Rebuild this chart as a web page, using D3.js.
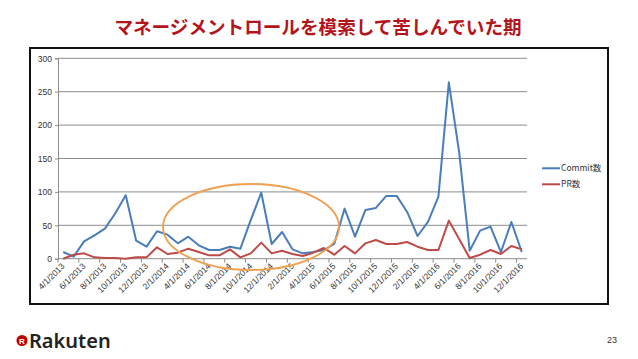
<!DOCTYPE html>
<html>
<head>
<meta charset="utf-8">
<script src="https://cdn.jsdelivr.net/npm/d3@7/dist/d3.min.js"></script>
<style>
  body { margin: 0; background: #fff; }
  svg { display: block; }
</style>
</head>
<body>
<svg width="638" height="359"></svg>
<script>
// monthly data, 4/2013 .. 12/2016
var months = [];
for (var yr = 2013; yr <= 2016; yr++) {
  for (var m = 1; m <= 12; m++) {
    if (yr == 2013 && m < 4) continue;
    months.push(m + "/1/" + yr);
  }
}
var commits = [10, 3, 26, 35, 45, 68, 95, 27, 18, 41, 36, 23, 33, 20, 13, 13, 18, 15, 58, 99,
               22, 40, 14, 8, 10, 13, 22, 75, 33, 73, 76, 94, 94, 70, 34, 55, 93, 264, 158, 12,
               42, 48, 10, 55, 10];
var prs = [0, 6, 8, 2, 1, 1, 0, 2, 2, 17, 7, 9, 15, 10, 5, 5, 14, 2, 8, 24,
           8, 12, 7, 4, 9, 16, 6, 19, 8, 23, 28, 22, 22, 25, 18, 13, 13, 57, 29, 1,
           6, 13, 7, 19, 14];
var yTicks = [0, 50, 100, 150, 200, 250, 300];
var seriesNames = ["Commit数", "PR数"];
var seriesColors = ["#4A7EBB", "#BE4B48"];

var svg = d3.select("svg");

// title
svg.append("text")
  .attr("x", 318).attr("y", 34)
  .attr("text-anchor", "middle")
  .attr("font-family", "Noto Sans CJK JP")
  .attr("font-weight", "bold")
  .attr("font-size", 18.6)
  .attr("fill", "#B4141B")
  .text("マネージメントロールを模索して苦しんでいた期");

// chart frame
svg.append("rect")
  .attr("x", 30).attr("y", 48).attr("width", 578).attr("height", 256)
  .attr("fill", "#fff").attr("stroke", "#111").attr("stroke-width", 2);

var plotL = 58, plotR = 527, plotT = 58.3, plotB = 258.7;

var x = d3.scaleBand().domain(months).range([plotL, plotR]);
var yScale = d3.scaleLinear().domain([0, 300]).range([plotB, plotT]);

// gridlines
svg.append("g").selectAll("line")
  .data(yTicks.slice(1))
  .enter().append("line")
  .attr("x1", plotL).attr("x2", plotR)
  .attr("y1", function(d) { return yScale(d); })
  .attr("y2", function(d) { return yScale(d); })
  .attr("stroke", "#8c8c8c").attr("stroke-width", 1);

// y axis
var yAxis = svg.append("g")
  .attr("transform", "translate(" + plotL + ",0)")
  .call(d3.axisLeft(yScale).tickValues(yTicks).tickSize(3).tickPadding(3));
yAxis.select(".domain").attr("stroke", "#8c8c8c");
yAxis.selectAll(".tick line").attr("stroke", "#8c8c8c");
yAxis.selectAll("text")
  .attr("font-family", "Liberation Sans").attr("font-size", 8.5).attr("fill", "#333");

// x axis: ticks at category boundaries every 2 months
var xa = svg.append("g");
xa.append("line")
  .attr("x1", plotL).attr("x2", plotR)
  .attr("y1", plotB).attr("y2", plotB)
  .attr("stroke", "#8c8c8c");
xa.selectAll(".tk")
  .data(months.filter(function(d, i) { return i % 2 == 0; }))
  .enter().append("line")
  .attr("class", "tk")
  .attr("x1", function(d) { return x(d); })
  .attr("x2", function(d) { return x(d); })
  .attr("y1", plotB).attr("y2", plotB + 4)
  .attr("stroke", "#8c8c8c");
xa.selectAll("text")
  .data(months.filter(function(d, i) { return i % 2 == 0; }))
  .enter().append("text")
  .attr("transform", function(d) {
    return "translate(" + (x(d) + x.bandwidth() / 2 + 2) + "," + (plotB + 8) + ") rotate(-45)";
  })
  .attr("text-anchor", "end")
  .attr("font-family", "Liberation Sans")
  .attr("font-size", 8.5)
  .attr("fill", "#333")
  .text(function(d) { return d; });

// lines
var line = d3.line()
  .x(function(d, i) { return x(months[i]) + x.bandwidth() / 2; })
  .y(function(d) { return yScale(d); });

[commits, prs].forEach(function(s, k) {
  svg.append("path")
    .attr("d", line(s))
    .attr("fill", "none")
    .attr("stroke", seriesColors[k])
    .attr("stroke-width", 2)
    .attr("stroke-linejoin", "round");
});

// orange ellipse
svg.append("ellipse")
  .attr("cx", 251).attr("cy", 227).attr("rx", 88).attr("ry", 43)
  .attr("fill", "none").attr("stroke", "#F0A050").attr("stroke-width", 1.8);

// legend
var lg = svg.append("g").selectAll("g")
  .data(seriesNames)
  .enter().append("g")
  .attr("transform", function(d, i) { return "translate(542," + (168.3 + i * 16) + ")"; });
lg.append("line")
  .attr("x1", 0).attr("x2", 18)
  .attr("stroke", function(d, i) { return seriesColors[i]; })
  .attr("stroke-width", 2);
lg.append("text")
  .attr("x", 19).attr("y", 3)
  .attr("font-family", "Noto Sans CJK JP")
  .attr("font-size", 8.5)
  .attr("fill", "#333")
  .text(function(d) { return d; });

// footer
svg.append("circle").attr("cx", 22).attr("cy", 340.5).attr("r", 5.5).attr("fill", "#BF0000");
svg.append("text")
  .attr("x", 22).attr("y", 343.5)
  .attr("text-anchor", "middle")
  .attr("font-family", "Liberation Sans").attr("font-weight", "bold")
  .attr("font-size", 8).attr("fill", "#fff")
  .text("R");
svg.append("text")
  .attr("x", 29).attr("y", 348)
  .attr("font-family", "Noto Sans").attr("font-weight", 600)
  .attr("font-size", 20).attr("fill", "#222")
  .text("Rakuten");
svg.append("text")
  .attr("x", 607).attr("y", 343)
  .attr("font-family", "Liberation Sans")
  .attr("font-size", 9).attr("fill", "#333")
  .text("23");
</script>
</body>
</html>
